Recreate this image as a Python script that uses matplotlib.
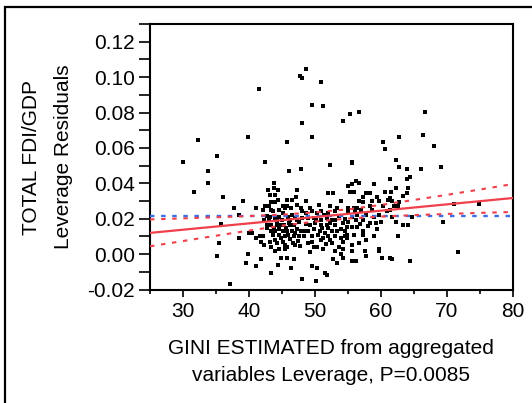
import numpy as np
import matplotlib
matplotlib.use("Agg")
import matplotlib.pyplot as plt
from matplotlib.patches import Rectangle
from matplotlib.ticker import MultipleLocator

plt.rcParams['font.family'] = ['Liberation Sans', 'DejaVu Sans']
plt.rcParams['lines.scale_dashes'] = False

# (gini, leverage residual) pairs
sparse_top = [
    (48.7, 0.1044), (47.8, 0.1006), (48.1, 0.0993), (50.9, 0.0974), (41.5, 0.0934),
    (49.5, 0.0844), (51.2, 0.0834), (56.7, 0.0804), (55.3, 0.0794), (66.7, 0.0804),
    (54.2, 0.0753), (48.1, 0.0743), (32.2, 0.0643), (39.9, 0.0664), (45.7, 0.0632),
    (49.5, 0.0664), (60.3, 0.0632), (62.8, 0.0664), (66.4, 0.0674), (60.6, 0.0592),
    (68.0, 0.0613), (30.0, 0.0522), (35.2, 0.0552), (33.8, 0.0471), (42.4, 0.0522),
    (46.0, 0.0471), (47.9, 0.0483), (52.3, 0.0501), (55.6, 0.0522), (55.6, 0.0512),
    (62.2, 0.0532), (62.8, 0.0492), (63.9, 0.0483), (66.1, 0.0483), (69.1, 0.0492),
    (61.4, 0.0424), (63.9, 0.0424), (64.4, 0.0433),
]
left_side = [
    (33.8, 0.0403), (31.6, 0.0352), (36.0, 0.0322), (39.1, 0.0301), (37.7, 0.0262),
    (41.0, 0.0262), (38.5, 0.0220), (35.8, 0.0171), (38.5, 0.0092), (35.5, 0.0062),
    (35.2, -0.0010), (39.9, 0.0001), (39.6, -0.0048), (41.0, -0.0069), (41.8, -0.0029),
    (37.1, -0.0169), (40.0, 0.0122), (40.5, 0.0122), (41.1, 0.0092), (41.6, 0.0103),
    (42.1, 0.0103), (41.8, 0.0071), (42.9, 0.0362), (42.4, 0.0273), (42.7, 0.0273),
    (43.0, 0.0273), (42.1, 0.0252), (42.7, 0.0213), (42.8, 0.0165), (42.7, 0.0145),
    (42.3, 0.0190), (42.2, 0.0050),
]
cluster_left = [
    (43.8, 0.0403), (43.8, 0.0373), (44.35, 0.0364), (43.2, 0.0334), (44.0, 0.0334),
    (47.3, 0.0364), (47.1, 0.0322), (44.35, 0.0303), (45.7, 0.0303), (46.5, 0.0303),
    (43.4, 0.0292), (44.0, 0.0292), (45.1, 0.0273), (45.7, 0.0273), (45.4, 0.0262),
    (47.9, 0.0262), (43.4, 0.0252), (43.7, 0.0243), (45.1, 0.0232), (43.2, 0.0212),
    (44.0, 0.0203), (44.6, 0.0212), (45.95, 0.0212), (46.5, 0.0222), (46.2, 0.0192),
    (48.1, 0.0243), (48.1, 0.0203), (47.3, 0.0192), (47.6, 0.0182), (43.4, 0.0162),
    (44.2, 0.0162), (44.8, 0.0162), (45.3, 0.0162), (46.2, 0.0162), (46.8, 0.0162),
    (43.4, 0.0131), (44.0, 0.0131), (44.6, 0.0141), (45.1, 0.0131), (45.7, 0.0131),
    (46.5, 0.0131), (47.3, 0.0141), (47.9, 0.0131), (43.7, 0.0110), (44.6, 0.0110),
    (45.4, 0.0101), (45.95, 0.0110), (46.8, 0.0101), (47.6, 0.0101), (48.4, 0.0101),
    (43.2, 0.0071), (44.2, 0.0062), (45.1, 0.0071), (45.4, 0.0050), (43.4, 0.0041),
    (44.0, 0.0020), (44.6, 0.0031), (45.4, 0.0031), (44.8, -0.0020), (45.7, -0.0020),
    (46.8, -0.0029), (47.0, 0.0050), (44.35, -0.0061), (46.3, -0.0078), (43.4, -0.0108),
    (48.1, -0.0140), (43.0, 0.0190), (44.3, 0.0185), (45.0, 0.0195), (46.0, 0.0175),
    (47.0, 0.0205), (43.8, 0.0150), (45.6, 0.0145), (46.9, 0.0120), (44.9, 0.0090),
    (46.2, 0.0085), (47.4, 0.0075), (43.9, 0.0080), (45.8, 0.0040), (46.6, 0.0060),
    (47.8, 0.0045), (44.6, 0.0250), (46.3, 0.0260), (47.2, 0.0280),
]
cluster_mid = [
    (48.7, 0.0301), (52.0, 0.0345), (52.8, 0.0345), (53.9, 0.0301), (49.2, 0.0262),
    (48.7, 0.0232), (49.5, 0.0241), (50.3, 0.0232), (50.9, 0.0241), (52.0, 0.0232),
    (53.1, 0.0241), (53.4, 0.0260), (49.0, 0.0203), (49.8, 0.0203), (50.9, 0.0192),
    (51.8, 0.0203), (52.6, 0.0192), (49.2, 0.0162), (50.0, 0.0173), (50.9, 0.0162),
    (51.8, 0.0162), (52.3, 0.0173), (53.1, 0.0162), (54.2, 0.0173), (49.0, 0.0131),
    (49.8, 0.0141), (50.7, 0.0131), (51.5, 0.0122), (52.6, 0.0131), (53.4, 0.0131),
    (53.9, 0.0141), (54.5, 0.0131), (49.5, 0.0101), (51.2, 0.0092), (52.0, 0.0101),
    (53.1, 0.0101), (53.9, 0.0092), (49.5, 0.0071), (50.9, 0.0080), (52.3, 0.0080),
    (54.2, 0.0071), (49.8, 0.0041), (50.3, 0.0041), (51.2, 0.0031), (52.6, 0.0062),
    (53.7, 0.0041), (54.2, 0.0031), (49.2, 0.0011), (53.9, 0.0001), (54.2, -0.0020),
    (53.4, -0.0048), (49.5, -0.0069), (50.3, -0.0078), (51.5, -0.0108), (51.8, -0.0118),
    (50.1, -0.0150), (55.6, -0.0039), (56.2, -0.0039), (48.6, 0.0170), (48.4, 0.0130),
    (48.9, 0.0060), (50.5, 0.0110), (51.0, 0.0145), (52.0, 0.0150), (53.0, 0.0190),
    (53.6, 0.0215), (54.6, 0.0200), (50.2, 0.0190), (51.4, 0.0220), (52.2, 0.0270),
    (50.6, 0.0280), (51.6, 0.0055), (53.0, 0.0020), (52.7, -0.0030), (54.6, 0.0100),
]
cluster_right = [
    (56.2, 0.0413), (56.7, 0.0403), (55.0, 0.0383), (55.6, 0.0394), (55.35, 0.0352),
    (55.9, 0.0352), (57.8, 0.0343), (58.3, 0.0343), (58.9, 0.0394), (60.6, 0.0352),
    (57.3, 0.0322), (59.4, 0.0322), (56.7, 0.0301), (57.3, 0.0292), (58.6, 0.0301),
    (59.7, 0.0301), (55.0, 0.0262), (55.9, 0.0262), (55.0, 0.0243), (56.4, 0.0262),
    (58.3, 0.0273), (61.1, 0.0303), (61.4, 0.0317), (55.6, 0.0212), (56.4, 0.0222),
    (57.8, 0.0222), (58.9, 0.0212), (59.7, 0.0222), (60.9, 0.0243), (61.4, 0.0250),
    (55.0, 0.0182), (56.2, 0.0192), (57.3, 0.0192), (58.3, 0.0173), (59.2, 0.0173),
    (60.0, 0.0182), (54.8, 0.0152), (55.6, 0.0152), (56.4, 0.0152), (59.4, 0.0141),
    (57.3, 0.0131), (54.8, 0.0110), (55.9, 0.0110), (57.3, 0.0110), (54.8, 0.0092),
    (57.8, 0.0080), (55.6, 0.0050), (55.6, 0.0020), (57.5, 0.0020), (57.8, -0.0009),
    (59.7, 0.0031), (59.7, 0.0020), (60.2, -0.0020), (61.4, -0.0020), (56.0, 0.0240),
    (57.0, 0.0250), (58.0, 0.0160), (56.8, 0.0170), (58.7, 0.0250), (60.3, 0.0270),
    (59.0, 0.0100), (56.6, 0.0060),
]
right_side = [
    (61.5, 0.0350), (62.3, 0.0371), (64.1, 0.0371), (63.9, 0.0343), (63.3, 0.0331),
    (61.7, 0.0301), (62.8, 0.0292), (62.0, 0.0271), (62.5, 0.0271), (71.1, 0.0283),
    (74.9, 0.0283), (61.7, 0.0212), (64.7, 0.0212), (62.3, 0.0182), (69.4, 0.0182),
    (63.3, 0.0162), (64.1, 0.0162), (62.5, 0.0101), (71.7, 0.0011), (61.7, -0.0029),
    (64.4, -0.0039),
]

# fitted line, confidence curves, mean line
fit_x = [25, 80]
fit_y = [0.0120, 0.0317]
ci_x = [25, 30, 35, 40, 45, 50, 55, 60, 65, 70, 75, 80]
ci_upper = [0.0196, 0.0202, 0.0208, 0.0215, 0.0223, 0.0236, 0.0253, 0.0278, 0.0306, 0.0335, 0.0365, 0.0396]
ci_lower = [0.0044, 0.0074, 0.0104, 0.0133, 0.0161, 0.0184, 0.0201, 0.0212, 0.0220, 0.0227, 0.0233, 0.0238]
mean_y = 0.0215

pts = np.array(sparse_top + left_side + cluster_left + cluster_mid + cluster_right + right_side)

fig = plt.figure(figsize=(5.32, 4.03), dpi=100)
ax = fig.add_axes([0.282, 0.2816, 0.6823, 0.6588])

ax.plot(pts[:, 0], pts[:, 1], 's', color='black', ms=2.8, mew=0, ls='none', zorder=3)
ax.plot([25, 80], [mean_y, mean_y], color='#3a6ee8', lw=1.7, dashes=(3.2, 4.8), zorder=4)
ax.plot(ci_x, ci_upper, color='#f0404c', lw=1.5, dashes=(3.2, 4.8), zorder=4)
ax.plot(ci_x, ci_lower, color='#f0404c', lw=1.5, dashes=(3.2, 4.8), zorder=4)
ax.plot(fit_x, fit_y, color='#f0404c', lw=1.6, zorder=5)

ax.set_xlim(25, 80)
ax.set_ylim(-0.02, 0.13)
ax.set_xticks(range(30, 81, 10))
ax.xaxis.set_minor_locator(MultipleLocator(5))
ax.set_yticks(np.arange(-0.02, 0.121, 0.02))
ax.yaxis.set_minor_locator(MultipleLocator(0.01))
ax.set_yticklabels(['%.2f' % v for v in np.arange(-0.02, 0.121, 0.02)])

ax.tick_params(axis='both', which='both', direction='out', width=1.2, labelsize=15)
ax.tick_params(axis='y', which='major', length=8, pad=3)
ax.tick_params(axis='y', which='minor', length=8)
ax.tick_params(axis='x', which='major', length=5, pad=4)
ax.tick_params(axis='x', which='minor', length=3)
for s in ax.spines.values():
    s.set_linewidth(1.5)

fig.text(0.069, 0.6104, 'TOTAL FDI/GDP', rotation=90, rotation_mode='anchor',
         ha='center', va='baseline', fontsize=15)
fig.text(0.1297, 0.6104, 'Leverage Residuals', rotation=90, rotation_mode='anchor',
         ha='center', va='baseline', fontsize=15)
fig.text(0.6222, 0.1208, 'GINI ESTIMATED from aggregated', ha='center', va='baseline', fontsize=15)
fig.text(0.6222, 0.0546, 'variables Leverage, P=0.0085', ha='center', va='baseline', fontsize=15)

# outer frame, only top and left edges fall inside the image
fig.patches.append(Rectangle((5 / 532, -0.1), 1.2, 1.1 - 7.5 / 403, transform=fig.transFigure,
                             fill=False, lw=1.6, ec='black'))

fig.savefig('out.png', dpi=100)
